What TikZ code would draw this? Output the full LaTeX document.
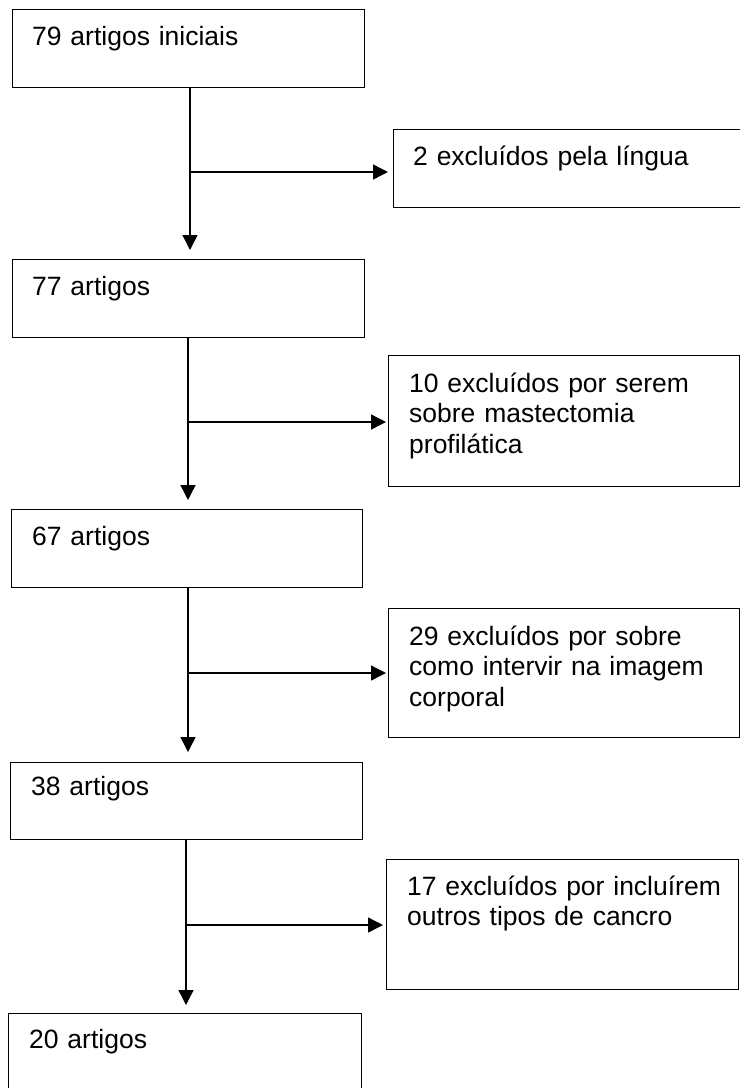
\documentclass[tikz,border=0pt]{standalone}
\usepackage{fontspec}
\setmainfont{Liberation Sans}
\usetikzlibrary{arrows.meta,calc}
\begin{document}
\begin{tikzpicture}[x=1pt,y=-1pt,
  box/.style={draw, line width=1.4pt, anchor=north west, inner sep=0pt},
  txt/.style={anchor=base west, inner sep=0pt, text width=330pt, align=left,
              font=\fontsize{26.5pt}{30.5pt}\selectfont},
  arr/.style={line width=1.4pt, -{Triangle[width=15pt,length=15pt]}}]
\useasboundingbox (0,0) rectangle (740,1088);
\clip (0,0) rectangle (740,1088);

% main boxes
\node[box, minimum width=352pt, minimum height=78pt] (a1) at (12,9) {};
\node[box, minimum width=352pt, minimum height=78pt] (a2) at (12,259) {};
\node[box, minimum width=351pt, minimum height=78pt] (a3) at (11,509) {};
\node[box, minimum width=352pt, minimum height=77pt] (a4) at (10,762) {};
\node[box, minimum width=353pt, minimum height=100pt] (a5) at (8,1013) {};

% exclusion boxes
\node[box, minimum width=360pt, minimum height=78pt] (e1) at (393,129) {};
\node[box, minimum width=351pt, minimum height=131pt] (e2) at (388,355) {};
\node[box, minimum width=351pt, minimum height=129pt] (e3) at (388,608) {};
\node[box, minimum width=352pt, minimum height=130pt] (e4) at (386,859) {};

% texts
\node[txt] (t1) at ($(a1.north west)+(20,36)$) {79 artigos iniciais};
\node[txt] (t2) at ($(a2.north west)+(20,36)$) {77 artigos};
\node[txt] (t3) at ($(a3.north west)+(21,36)$) {67 artigos};
\node[txt] (t4) at ($(a4.north west)+(21,33)$) {38 artigos};
\node[txt] (t5) at ($(a5.north west)+(21,35)$) {20 artigos};
\node[txt] (u1) at ($(e1.north west)+(20,36)$) {2 excluídos pela língua};
\node[txt] (u2) at ($(e2.north west)+(21,37)$) {10 excluídos por serem\\sobre mastectomia\\profilática};
\node[txt] (u3) at ($(e3.north west)+(21,37)$) {29 excluídos por sobre\\como intervir na imagem\\corporal};
\node[txt] (u4) at ($(e4.north west)+(21,36)$) {17 excluídos por incluírem\\outros tipos de cancro};

% junctions
\coordinate (j1) at (190,172);
\coordinate (j2) at (188,422);
\coordinate (j3) at (188,673);
\coordinate (j4) at (186,925);

% connectors
\draw[arr, shorten >=9pt] (a1.south -| j1) -- (a2.north -| j1);
\draw[arr, shorten >=5pt] (j1) -- (j1 -| e1.west);
\draw[arr, shorten >=9pt] (a2.south -| j2) -- (a3.north -| j2);
\draw[arr, shorten >=2pt] (j2) -- (j2 -| e2.west);
\draw[arr, shorten >=10pt] (a3.south -| j3) -- (a4.north -| j3);
\draw[arr, shorten >=2pt] (j3) -- (j3 -| e3.west);
\draw[arr, shorten >=8pt] (a4.south -| j4) -- (a5.north -| j4);
\draw[arr, shorten >=3pt] (j4) -- (j4 -| e4.west);
\end{tikzpicture}
\end{document}
